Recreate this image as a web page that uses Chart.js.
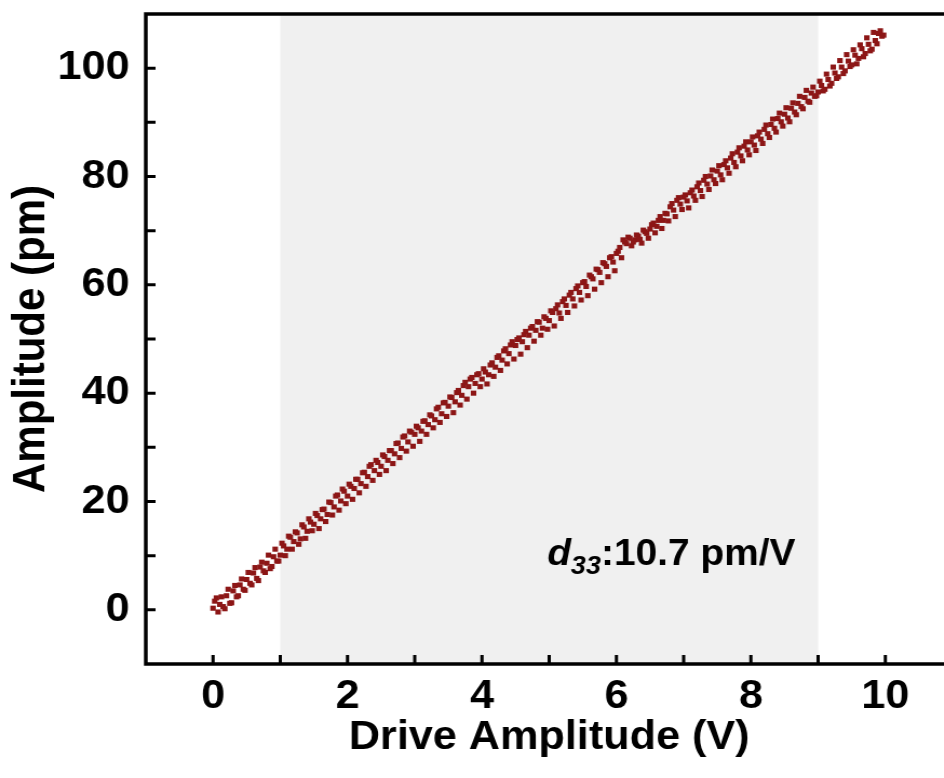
<!DOCTYPE html>
<html>
<head>
<meta charset="utf-8">
<script src="https://cdn.jsdelivr.net/npm/chart.js@4/dist/chart.umd.min.js"></script>
<style>
  html, body { margin: 0; padding: 0; background: #fff; overflow: hidden; width: 944px; height: 778px; }
  #wrap { transform: scaleX(1.08); transform-origin: 0 0; width: 900px; height: 778px; }
</style>
</head>
<body>
<div id="wrap"><canvas id="chart" width="900" height="778"></canvas></div>
<script>
// Drive amplitude (V), first sweep
const voltage = [
    0, 0.05, 0.1, 0.15, 0.2, 0.25, 0.3, 0.35, 0.4, 0.45, 0.5, 0.55, 0.6, 0.65, 0.7, 0.75, 0.8, 0.85, 0.9, 0.95,
    1, 1.05, 1.1, 1.15, 1.2, 1.25, 1.3, 1.35, 1.4, 1.45, 1.5, 1.55, 1.6, 1.65, 1.7, 1.75, 1.8, 1.85, 1.9, 1.95,
    2, 2.05, 2.1, 2.15, 2.2, 2.25, 2.3, 2.35, 2.4, 2.45, 2.5, 2.55, 2.6, 2.65, 2.7, 2.75, 2.8, 2.85, 2.9, 2.95,
    3, 3.05, 3.1, 3.15, 3.2, 3.25, 3.3, 3.35, 3.4, 3.45, 3.5, 3.55, 3.6, 3.65, 3.7, 3.75, 3.8, 3.85, 3.9, 3.95,
    4, 4.05, 4.1, 4.15, 4.2, 4.25, 4.3, 4.35, 4.4, 4.45, 4.5, 4.55, 4.6, 4.65, 4.7, 4.75, 4.8, 4.85, 4.9, 4.95,
    5, 5.05, 5.1, 5.15, 5.2, 5.25, 5.3, 5.35, 5.4, 5.45, 5.5, 5.55, 5.6, 5.65, 5.7, 5.75, 5.8, 5.85, 5.9, 5.95,
    6, 6.05, 6.1, 6.15, 6.2, 6.25, 6.3, 6.35, 6.4, 6.45, 6.5, 6.55, 6.6, 6.65, 6.7, 6.75, 6.8, 6.85, 6.9, 6.95,
    7, 7.05, 7.1, 7.15, 7.2, 7.25, 7.3, 7.35, 7.4, 7.45, 7.5, 7.55, 7.6, 7.65, 7.7, 7.75, 7.8, 7.85, 7.9, 7.95,
    8, 8.05, 8.1, 8.15, 8.2, 8.25, 8.3, 8.35, 8.4, 8.45, 8.5, 8.55, 8.6, 8.65, 8.7, 8.75, 8.8, 8.85, 8.9, 8.95,
    9, 9.05, 9.1, 9.15, 9.2, 9.25, 9.3, 9.35, 9.4, 9.45, 9.5, 9.55, 9.6, 9.65, 9.7, 9.75, 9.8, 9.85, 9.9, 9.95,
];

// Amplitude (pm), first sweep
const amplitude = [
    0.3, 2.2, 1.0, 0.6, 2.6, 1.2, 3.5, 2.4, 4.6, 3.8,
    5.6, 4.9, 6.8, 5.8, 7.9, 7.2, 8.6, 7.6, 9.8, 9.0,
    10.1, 11.8, 11.2, 13.4, 12.6, 14.2, 13.1, 15.3, 14.5, 16.2,
    15.8, 17.4, 16.8, 18.6, 17.6, 19.8, 19.0, 21.2, 20.1, 21.9,
    21.0, 22.8, 22.4, 24.1, 23.3, 25.4, 24.6, 26.8, 25.7, 27.2,
    26.5, 28.3, 27.6, 29.4, 28.8, 30.8, 29.8, 32.1, 31.0, 32.8,
    32.4, 33.6, 33.0, 34.9, 34.2, 35.8, 35.1, 37.4, 36.2, 38.3,
    37.6, 39.2, 38.4, 40.5, 39.6, 42.0, 41.2, 42.9, 41.8, 43.6,
    42.6, 43.9, 43.4, 45.6, 44.8, 46.9, 46.1, 48.2, 47.3, 49.5,
    48.8, 50.2, 49.5, 51.4, 50.7, 52.3, 51.6, 53.1, 52.0, 53.8,
    53.4, 54.9, 55.6, 54.8, 56.9, 56.2, 58.1, 57.4, 59.3, 58.6,
    60.4, 59.7, 61.8, 61.1, 62.9, 62.3, 64.1, 63.4, 65.0, 64.2,
    65.8, 66.9, 68.3, 67.6, 68.6, 67.9, 69.2, 68.4, 70.1, 69.5,
    70.3, 71.4, 70.8, 72.6, 71.9, 73.1, 74.4, 73.8, 75.6, 74.9,
    76.2, 75.5, 77.0, 76.4, 78.1, 77.4, 79.3, 78.6, 80.1, 79.4,
    81.0, 80.3, 82.2, 81.6, 83.4, 82.6, 84.5, 83.8, 85.6, 84.9,
    86.4, 85.8, 87.5, 86.9, 88.7, 87.9, 89.6, 88.9, 90.7, 90.1,
    91.5, 90.8, 92.6, 91.9, 93.5, 92.9, 94.6, 93.9, 95.4, 94.8,
    95.6, 96.8, 96.1, 97.9, 97.2, 99.1, 98.4, 100.2, 99.5, 101.3,
    100.6, 102.4, 101.8, 103.6, 102.7, 104.4, 103.5, 105.1, 106.4, 105.9,
];

// Drive amplitude (V), second sweep
const voltage2 = [
    0.025, 0.075, 0.125, 0.175, 0.225, 0.275, 0.325, 0.375, 0.425, 0.475, 0.525, 0.575, 0.625, 0.675, 0.725, 0.775, 0.825, 0.875, 0.925, 0.975,
    1.025, 1.075, 1.125, 1.175, 1.225, 1.275, 1.325, 1.375, 1.425, 1.475, 1.525, 1.575, 1.625, 1.675, 1.725, 1.775, 1.825, 1.875, 1.925, 1.975,
    2.025, 2.075, 2.125, 2.175, 2.225, 2.275, 2.325, 2.375, 2.425, 2.475, 2.525, 2.575, 2.625, 2.675, 2.725, 2.775, 2.825, 2.875, 2.925, 2.975,
    3.025, 3.075, 3.125, 3.175, 3.225, 3.275, 3.325, 3.375, 3.425, 3.475, 3.525, 3.575, 3.625, 3.675, 3.725, 3.775, 3.825, 3.875, 3.925, 3.975,
    4.025, 4.075, 4.125, 4.175, 4.225, 4.275, 4.325, 4.375, 4.425, 4.475, 4.525, 4.575, 4.625, 4.675, 4.725, 4.775, 4.825, 4.875, 4.925, 4.975,
    5.025, 5.075, 5.125, 5.175, 5.225, 5.275, 5.325, 5.375, 5.425, 5.475, 5.525, 5.575, 5.625, 5.675, 5.725, 5.775, 5.825, 5.875, 5.925, 5.975,
    6.025, 6.075, 6.125, 6.175, 6.225, 6.275, 6.325, 6.375, 6.425, 6.475, 6.525, 6.575, 6.625, 6.675, 6.725, 6.775, 6.825, 6.875, 6.925, 6.975,
    7.025, 7.075, 7.125, 7.175, 7.225, 7.275, 7.325, 7.375, 7.425, 7.475, 7.525, 7.575, 7.625, 7.675, 7.725, 7.775, 7.825, 7.875, 7.925, 7.975,
    8.025, 8.075, 8.125, 8.175, 8.225, 8.275, 8.325, 8.375, 8.425, 8.475, 8.525, 8.575, 8.625, 8.675, 8.725, 8.775, 8.825, 8.875, 8.925, 8.975,
    9.025, 9.075, 9.125, 9.175, 9.225, 9.275, 9.325, 9.375, 9.425, 9.475, 9.525, 9.575, 9.625, 9.675, 9.725, 9.775, 9.825, 9.875, 9.925, 9.975,
];

// Amplitude (pm), second sweep
const amplitude2 = [
    1.6, -0.4, 2.4, 0.2, 3.8, 1.3, 4.5, 2.6, 5.7, 3.6,
    6.9, 4.6, 7.8, 5.4, 8.8, 6.9, 10.1, 8.0, 11.2, 9.0,
    12.3, 10.0, 13.6, 11.2, 14.4, 12.1, 15.7, 13.2, 16.8, 14.6,
    17.8, 15.0, 18.5, 16.3, 19.9, 17.5, 21.0, 18.4, 22.3, 19.6,
    23.2, 20.4, 24.1, 21.6, 25.3, 22.8, 26.5, 23.9, 27.6, 25.0,
    28.6, 25.7, 29.4, 27.0, 30.7, 28.1, 31.9, 29.3, 33.0, 30.2,
    33.9, 31.1, 34.8, 32.4, 36.0, 33.6, 37.1, 34.6, 38.2, 35.7,
    39.3, 36.4, 40.1, 37.8, 41.4, 38.9, 42.6, 40.0, 43.4, 41.2,
    44.5, 41.7, 45.2, 43.1, 46.6, 44.2, 47.8, 45.4, 48.9, 46.3,
    49.9, 47.2, 50.8, 48.4, 52.0, 49.6, 53.2, 50.7, 54.1, 51.8,
    55.2, 52.4, 56.3, 53.8, 57.4, 54.9, 58.6, 56.1, 59.8, 57.2,
    60.6, 58.0, 61.5, 59.2, 62.8, 60.4, 63.9, 61.5, 65.2, 62.6,
    66.2, 65.0, 67.9, 68.8, 67.2, 68.3, 69.0, 67.7, 69.8, 68.6,
    71.1, 69.6, 71.9, 70.4, 73.2, 71.8, 75.0, 72.6, 76.1, 73.9,
    76.6, 74.2, 77.5, 75.6, 78.8, 76.3, 80.0, 77.6, 81.2, 78.7,
    82.0, 79.4, 82.9, 80.6, 84.2, 81.8, 85.3, 82.9, 86.4, 84.0,
    87.3, 84.8, 88.2, 86.1, 89.5, 87.2, 90.6, 88.2, 91.7, 89.3,
    92.7, 90.1, 93.6, 91.4, 94.8, 92.5, 95.9, 93.7, 96.5, 94.9,
    97.6, 95.8, 98.9, 96.7, 100.2, 98.1, 101.4, 99.0, 102.5, 100.3,
    103.4, 100.8, 104.3, 102.1, 105.6, 103.2, 106.6, 104.5, 106.9, 106.1,
];

// Fitting window and result shown on the plot
const fitRange = [1, 9];
const d33 = '10.7';

const xTitle = 'Drive Amplitude (V)';
const yTitle = 'Amplitude (pm)';

const FONT = "'Liberation Sans', Arial, sans-serif";
const RED = '#8c1616';

const framePlugin = {
    id: 'frame',
    beforeDatasetsDraw(chart) {
        const { ctx, chartArea: a, scales: { x } } = chart;
        ctx.save();
        ctx.fillStyle = '#f0f0f0';
        const x0 = x.getPixelForValue(fitRange[0]);
        const x1 = x.getPixelForValue(fitRange[1]);
        ctx.fillRect(x0, a.top, x1 - x0, a.bottom - a.top);
        ctx.restore();
    },
    afterDatasetsDraw(chart) {
        const { ctx, chartArea: a, scales: { x, y } } = chart;
        ctx.save();
        ctx.strokeStyle = '#000';
        ctx.lineWidth = 3;
        ctx.beginPath();
        x.ticks.forEach(t => {
            if (t.value <= x.min || t.value >= x.max) return;
            const px = x.getPixelForValue(t.value);
            ctx.moveTo(px, a.bottom);
            ctx.lineTo(px, a.bottom - 9);
        });
        y.ticks.forEach(t => {
            if (t.value <= y.min || t.value >= y.max) return;
            const py = y.getPixelForValue(t.value);
            ctx.moveTo(a.left, py);
            ctx.lineTo(a.left + 9, py);
        });
        ctx.stroke();

        ctx.lineWidth = 3.5;
        ctx.strokeRect(a.left, a.top, a.right - a.left, a.bottom - a.top);

        // d33 label
        let tx = x.getPixelForValue(4.97);
        const ty = y.getPixelForValue(8.3);
        ctx.fillStyle = '#000';
        ctx.textBaseline = 'alphabetic';
        ctx.font = 'italic bold 36px ' + FONT;
        ctx.fillText('d', tx, ty);
        tx += ctx.measureText('d').width;
        ctx.font = 'italic bold 25px ' + FONT;
        ctx.fillText('33', tx, ty + 9);
        tx += ctx.measureText('33').width;
        ctx.font = 'bold 36px ' + FONT;
        ctx.fillText(':' + d33 + ' pm/V', tx, ty);
        ctx.restore();
    },
};

const pointStyle = {
    backgroundColor: RED,
    borderWidth: 0,
    pointStyle: 'rect',
    pointRadius: 3.6,
};

new Chart(document.getElementById('chart'), {
    type: 'scatter',
    data: {
        datasets: [
            { data: voltage.map((v, i) => ({ x: v, y: amplitude[i] })), ...pointStyle },
            { data: voltage2.map((v, i) => ({ x: v, y: amplitude2[i] })), ...pointStyle },
        ],
    },
    options: {
        responsive: false,
        animation: false,
        layout: { padding: { top: 14, right: 18, left: 0, bottom: 0 } },
        plugins: { legend: { display: false }, tooltip: { enabled: false } },
        scales: {
            x: {
                type: 'linear',
                min: -1,
                max: 11,
                afterFit: s => { s.height = 114; s.paddingLeft = 0; s.paddingRight = 0; },
                border: { display: false },
                grid: { drawOnChartArea: false, drawTicks: false },
                ticks: {
                    stepSize: 1,
                    autoSkip: false,
                    maxRotation: 0,
                    padding: 9,
                    color: '#000',
                    font: { family: FONT, size: 40, weight: 'bold' },
                    callback: v => (v >= 0 && v <= 10 && v % 2 === 0) ? v : '',
                },
                title: {
                    display: true,
                    text: xTitle,
                    color: '#000',
                    padding: { top: 0, bottom: 16 },
                    font: { family: FONT, size: 40, weight: 'bold' },
                },
            },
            y: {
                min: -10,
                max: 110,
                afterFit: s => { s.width = 135; s.paddingTop = 0; s.paddingBottom = 0; },
                border: { display: false },
                grid: { drawOnChartArea: false, drawTicks: false },
                ticks: {
                    stepSize: 10,
                    autoSkip: false,
                    padding: 15,
                    color: '#000',
                    font: { family: FONT, size: 40, weight: 'bold' },
                    callback: v => (v >= 0 && v <= 100 && v % 20 === 0) ? v : '',
                },
                title: {
                    display: true,
                    text: yTitle,
                    color: '#000',
                    padding: { top: 4, bottom: 0 },
                    font: { family: FONT, size: 42, weight: 'bold' },
                },
            },
        },
    },
    plugins: [framePlugin],
});
</script>
</body>
</html>
